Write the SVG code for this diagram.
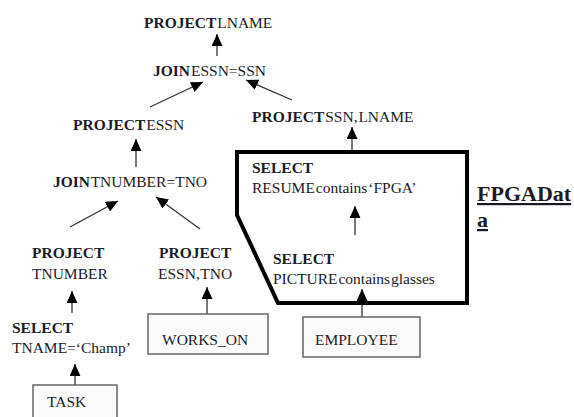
<svg xmlns="http://www.w3.org/2000/svg" width="574" height="417" viewBox="0 0 574 417">
  <defs>
    <style>
      text { font-family: "Liberation Serif", "Times New Roman", serif; font-size: 15.5px; fill: #1b1b26; word-spacing: -3px; }
      .b { font-weight: bold; }
      .rel { fill: #fbfbfb; stroke: #666; stroke-width: 1.5; }
      .edge { stroke: #333; stroke-width: 1.3; fill: none; marker-end: url(#tip); }
      .frame { fill: none; stroke: #000; stroke-width: 4; stroke-linejoin: miter; }
      .label { font-size: 22px; font-weight: bold; text-decoration: underline; }
    </style>
    <marker id="tip" markerUnits="userSpaceOnUse" markerWidth="13" markerHeight="11" refX="12" refY="5.5" orient="auto">
      <path d="M0,0 L12,5.5 L0,11 Z" fill="#000"/>
    </marker>
  </defs>
  <rect width="574" height="417" fill="#fff"/>

  <!-- connectors -->
  <g id="edges">
    <line class="edge" x1="217" y1="56" x2="217" y2="34"/>
    <line class="edge" x1="150" y1="107" x2="203" y2="82"/>
    <line class="edge" x1="292" y1="100" x2="246" y2="80"/>
    <line class="edge" x1="136" y1="167" x2="136" y2="139"/>
    <line class="edge" x1="70" y1="227" x2="118" y2="201"/>
    <line class="edge" x1="200" y1="229" x2="156" y2="197"/>
    <line class="edge" x1="72" y1="313" x2="72" y2="291"/>
    <line class="edge" x1="75" y1="385" x2="75" y2="364"/>
    <line class="edge" x1="207" y1="314" x2="207" y2="287"/>
    <line class="edge" x1="352" y1="150" x2="352" y2="127"/>
    <line class="edge" x1="355" y1="235" x2="355" y2="206"/>
    <line class="edge" x1="362" y1="317" x2="362" y2="289"/>
  </g>

  <!-- operator nodes -->
  <g id="project-lname">
    <text x="144" y="28"><tspan class="b">PROJECT</tspan> LNAME</text>
  </g>
  <g id="join-essn-ssn">
    <text x="153" y="76"><tspan class="b">JOIN</tspan> ESSN=SSN</text>
  </g>
  <g id="project-essn">
    <text x="73" y="130"><tspan class="b">PROJECT</tspan> ESSN</text>
  </g>
  <g id="join-tnumber-tno">
    <text x="53" y="187"><tspan class="b">JOIN</tspan> TNUMBER=TNO</text>
  </g>
  <g id="project-tnumber">
    <text x="32" y="258" class="b">PROJECT</text>
    <text x="32" y="279">TNUMBER</text>
  </g>
  <g id="select-tname">
    <text x="12" y="333" class="b">SELECT</text>
    <text x="12" y="353">TNAME=‘Champ’</text>
  </g>
  <g id="project-essn-tno">
    <text x="159" y="258" class="b">PROJECT</text>
    <text x="158" y="279">ESSN, TNO</text>
  </g>
  <g id="project-ssn-lname">
    <text x="252" y="122"><tspan class="b">PROJECT</tspan> SSN, LNAME</text>
  </g>

  <!-- FPGA data region -->
  <g id="fpga-region">
    <path class="frame" d="M237,152 H467 V303 H278 L237,215 Z"/>
  </g>
  <g id="select-resume">
    <text x="252" y="173" class="b">SELECT</text>
    <text x="252" y="193">RESUME contains ‘FPGA’</text>
  </g>
  <g id="select-picture">
    <text x="273" y="264" class="b">SELECT</text>
    <text x="273" y="284">PICTURE contains glasses</text>
  </g>
  <g id="fpga-label">
    <text class="label" x="477" y="201">FPGADat</text>
    <text class="label" x="477" y="227">a</text>
  </g>

  <!-- base relations -->
  <g id="task">
    <rect class="rel" x="33" y="385" width="84" height="40"/>
    <text x="47" y="407">TASK</text>
  </g>
  <g id="works-on">
    <rect class="rel" x="148" y="314" width="120" height="40"/>
    <text x="162" y="345">WORKS_ON</text>
  </g>
  <g id="employee">
    <rect class="rel" x="303" y="317" width="117" height="40"/>
    <text x="315" y="345">EMPLOYEE</text>
  </g>
</svg>
